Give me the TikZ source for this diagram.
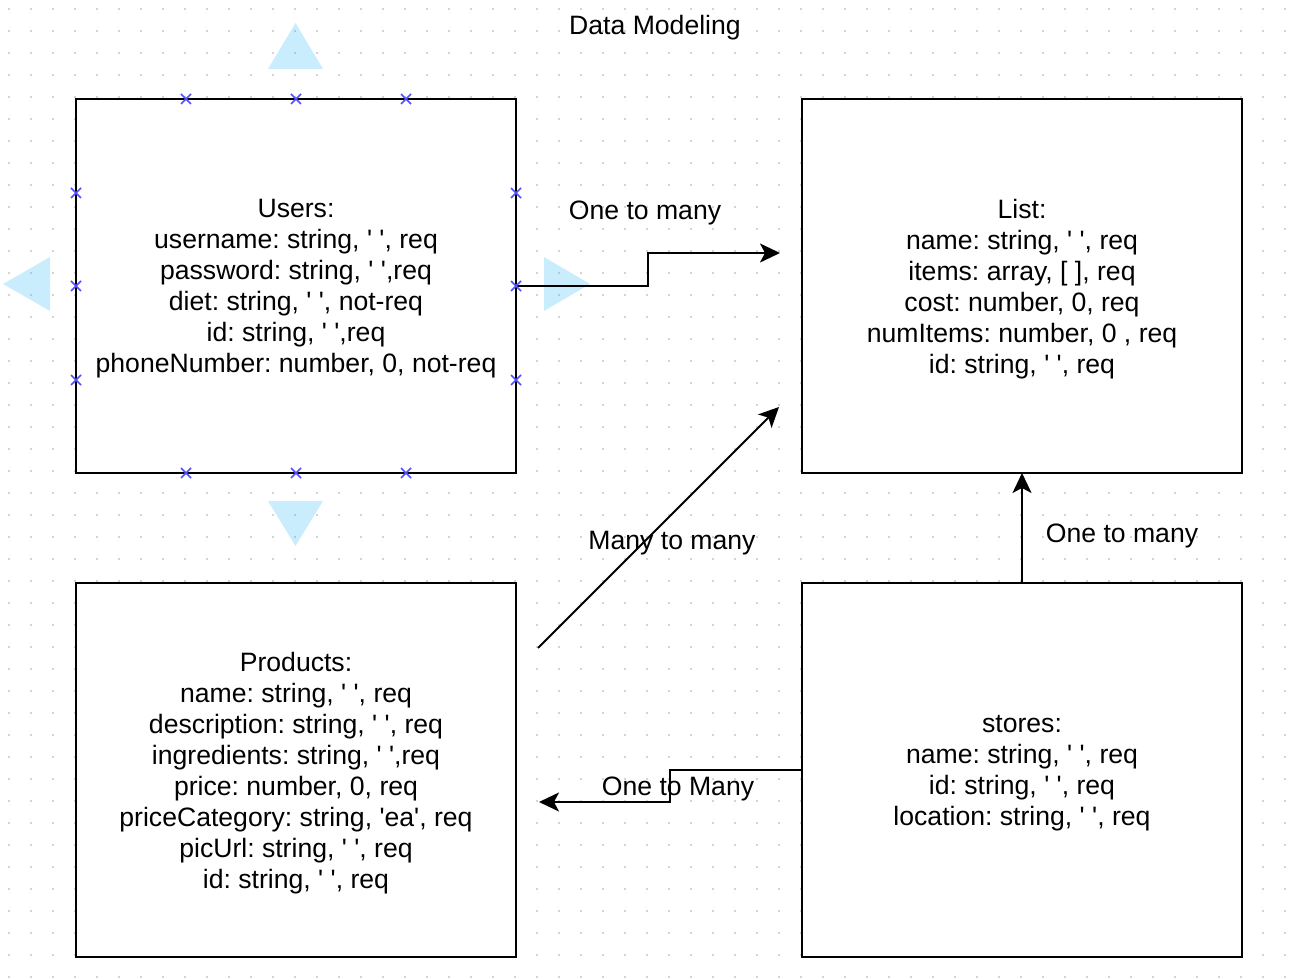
\documentclass[tikz,border=0pt]{standalone}
\usepackage{fontspec}
\setmainfont{Liberation Sans}[Ligatures=TeXOff]
\usepackage{tikz}
\usetikzlibrary{arrows.meta,positioning}
\frenchspacing

\begin{document}
\begin{tikzpicture}[->,>={Stealth[length=10pt,width=9.5pt,inset=2.5pt]},x=0.5pt,y=-0.5pt,
            line width=1pt,font=\fontsize{13.3}{15.5}\selectfont]
        \tikzstyle{entity}=[draw=black,fill=white,align=center,minimum width=220pt,
            minimum height=187pt,inner sep=0pt,outer sep=0pt,text depth=-4pt]
        \tikzstyle{griddot}=[fill={rgb,255:red,212;green,212;blue,212}]
        \tikzstyle{handle}=[-,draw={rgb,255:red,80;green,80;blue,255},line width=0.75pt]
        \tikzstyle{arrowhandle}=[fill={rgb,255:red,41;green,182;blue,242},fill opacity=0.25]

        \useasboundingbox (0,0) rectangle (1306,978);
        \foreach \i in {0,...,59}
            \foreach \j in {0,...,44}
                \fill[griddot] (8.3+22*\i,8.3+22*\j) rectangle +(2,2);

        \node[entity] (users) at (296,286) {Users:\\username: string, ' ', req\\password: string, ' ',req\\diet: string, ' ', not-req\\id: string, ' ',req\\phoneNumber: number, 0, not-req};
        \node[entity] (list) [right=143pt of users] {List:\\name: string, ' ', req\\items: array, [ ], req\\cost: number, 0, req\\numItems: number, 0 , req\\id: string, ' ', req};
        \node[entity] (products) [below=55pt of users] {Products:\\name: string, ' ', req\\description: string, ' ', req\\ingredients: string, ' ',req\\price: number, 0, req\\priceCategory: string, 'ea', req\\picUrl: string, ' ', req\\id: string, ' ', req};
        \node[entity] (stores) [below=55pt of list] {stores:\\name: string, ' ', req\\id: string, ' ', req\\location: string, ' ', req};

        \fill[arrowhandle] (268,69) -- (323,69) -- (295.5,23) -- cycle;
        \fill[arrowhandle] (268,501) -- (323,501) -- (295.5,546) -- cycle;
        \fill[arrowhandle] (50,257) -- (50,311) -- (3,284) -- cycle;
        \fill[arrowhandle] (544,257) -- (544,311) -- (590,284) -- cycle;

        \coordinate (listin) at (780,253);
        \coordinate (manyout) at (538,648);
        \coordinate (manyin) at (779,407);
        \coordinate (prodin) at (539,802);

        \draw (users.east) -| (648,253) -- (listin);
        \draw (manyout) -- (manyin);
        \draw (stores.north) -- (list.south);
        \draw (stores.west) -| (670,802) -- (prodin);

        \foreach \p in {(186,99),(296,99),(406,99),(186,473),(296,473),(406,473),
                        (76,193),(76,286),(76,380),(516,193),(516,286),(516,380)}
            \draw[handle] \p +(-5,-5) -- +(5,5) \p +(-5,5) -- +(5,-5);

        \node (title) at (655,28) {Data Modeling};
        \node (userslist) at (645,213) {One to many};
        \node (productslist) at (672,543) {Many to many};
        \node (storeslist) at (1122,536) {One to many};
        \node (storesproducts) at (678,789) {One to Many};
    \end{tikzpicture}
\end{document}
